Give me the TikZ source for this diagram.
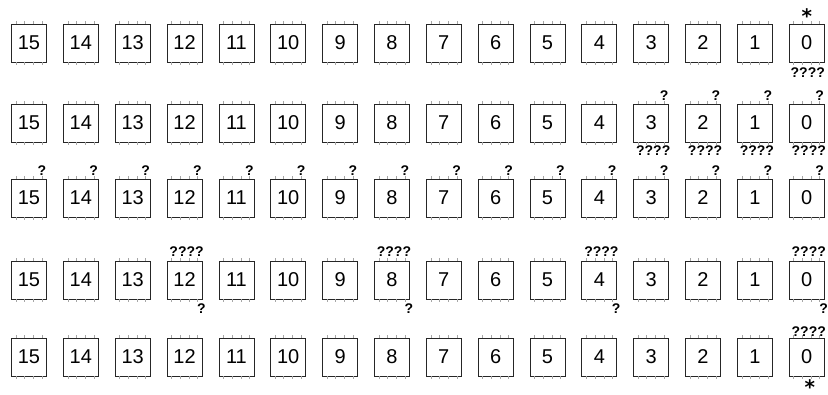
\documentclass[tikz,border=0pt]{standalone}
\usepackage{fontspec}
\setmainfont{Liberation Sans}
\newfontfamily\astfont{DejaVu Sans}
\usetikzlibrary{calc}
\begin{document}
\begin{tikzpicture}[x=1pt,y=-1pt,
  cell/.style={draw=black!85, line width=0.75pt, minimum width=35pt, minimum height=38pt, inner sep=0pt, font=\fontsize{20}{24}\selectfont},
  pin/.style={draw=black!35, line width=0.6pt},
  qm/.style={inner sep=0pt, anchor=base, font=\fontsize{14}{16}\selectfont\bfseries},
  ast/.style={inner sep=0pt, anchor=center, font=\fontsize{20}{24}\selectfont\astfont\bfseries}]
\useasboundingbox (0,0) rectangle (828,394);
\fill[white] (0,0) rectangle (828,394);
\foreach \r/\y in {1/43,2/123,3/198,4/280,5/357} {
  \foreach \i in {0,...,15} {
    \pgfmathtruncatemacro\lab{15-\i}
    \node[cell] (b\r-\lab) at ({29+51.85*\i},\y) {\lab};
    \foreach \dx in {-13,-4.5,4.5,13} {
      \draw[pin] ([xshift=\dx pt]b\r-\lab.north) -- ++(0,-2.5);
      \draw[pin] ([xshift=\dx pt]b\r-\lab.south) -- ++(0,2.5);
    }
  }
}
% row 1
\node[ast] (a1) at ($(b1-0.north)+(0,-11)$) {\raisebox{-0.55em}[0.2em][0.2em]{*}};
\node[qm] (q1b) at ($(b1-0.south)+(1,15)$) {????};
% row 2
\foreach \l in {3,2,1,0} {
  \node[qm] (q2t\l) at ($(b2-\l.north east)+(-5,-3.5)$) {?};
  \node[qm] (q2b\l) at ($(b2-\l.south)+(2,13)$) {????};
}
% row 3
\foreach \l in {0,...,15} {
  \node[qm] (q3t\l) at ($(b3-\l.north east)+(-5,-3.5)$) {?};
}
% row 4
\foreach \l in {12,8,4,0} {
  \node[qm] (q4t\l) at ($(b4-\l.north)+(2,-4)$) {????};
  \node[qm] (q4b\l) at ($(b4-\l.south east)+(-1,14)$) {?};
}
% row 5
\node[qm] (q5t) at ($(b5-0.north)+(2,-1.5)$) {????};
\node[ast] (a5) at ($(b5-0.south)+(3,7)$) {\raisebox{-0.55em}[0.2em][0.2em]{*}};
\end{tikzpicture}
\end{document}
